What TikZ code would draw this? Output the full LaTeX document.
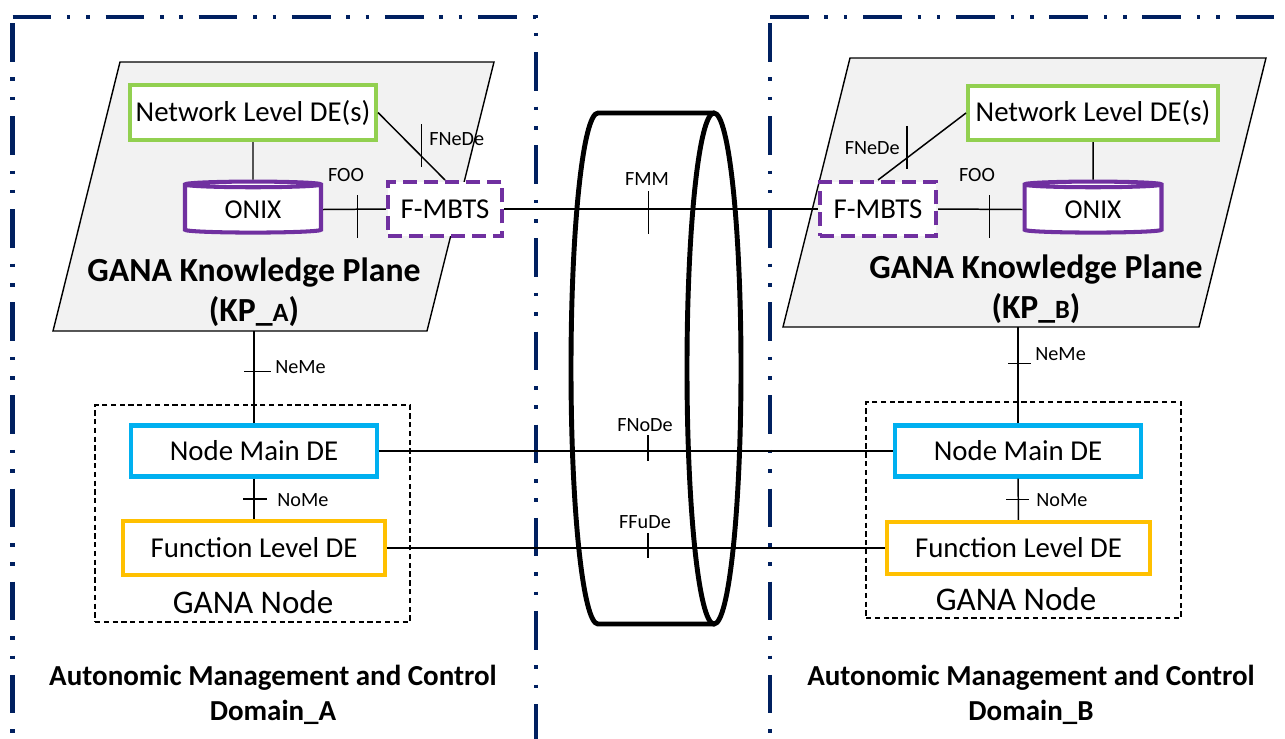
\documentclass[tikz,border=0pt]{standalone}
\usepackage{fontspec}
\setmainfont{Carlito}
\usepackage{tikz}
\usetikzlibrary{shapes.geometric}
\definecolor{azuldominio}{RGB}{0,32,96}
\definecolor{verdede}{RGB}{146,208,80}
\definecolor{moradoonix}{RGB}{112,48,160}
\definecolor{azulnodo}{RGB}{0,176,240}
\definecolor{naranjade}{RGB}{255,192,0}
\definecolor{grisplano}{RGB}{242,242,242}

\begin{document}
\begin{tikzpicture}[x=0.02cm, y=-0.02cm]
      % Definimos algunos estilos
      \tikzstyle{dominio}=[
        draw=azuldominio,
        line width=2.4pt,
        dash pattern=on 22pt off 9pt on 2pt off 9pt on 2pt off 9pt
      ]
      \tikzstyle{plano}=[draw=black, line width=0.8pt, fill=grisplano]
      % caja de un elemento de decision
      \tikzstyle{caja}=[
        rectangle,
        line width=2.3pt,
        fill=white,
        inner sep=0pt,
        font=\fontsize{16.4}{19}\selectfont
      ]
      \tikzstyle{onix}=[
        cylinder,
        shape border rotate=90,
        aspect=0.1,
        draw=moradoonix,
        line width=2.3pt,
        fill=white,
        inner sep=0pt,
        font=\fontsize{15.5}{18}\selectfont
      ]
      \tikzstyle{fmbts}=[caja, draw=moradoonix, dash pattern=on 8pt off 4pt]
      \tikzstyle{nodo_gana}=[rectangle, draw=black, line width=0.7pt, dash pattern=on 3pt off 2pt]
      \tikzstyle{anillo}=[draw=black, line width=2.8pt]
      \tikzstyle{conexion}=[draw=black, line width=0.85pt]
      \tikzstyle{etiqueta}=[inner sep=0pt, font=\fontsize{11.5}{13}\selectfont]
      \tikzstyle{titulo}=[inner sep=0pt, align=center, font=\bfseries\fontsize{19.2}{22.7}\selectfont]
      \tikzstyle{texto_nodo}=[inner sep=0pt, font=\fontsize{18.8}{21}\selectfont]
      \tikzstyle{texto_dominio}=[inner sep=0pt, align=center, font=\bfseries\fontsize{16.5}{20}\selectfont]

      \useasboundingbox (0,0) rectangle (1285,738);
      \clip (0,0) rectangle (1285,738);

      % dominios
      \draw[dominio] (12.5,17) -- (536,17) -- (536,760);
      \draw[dominio] (12.5,23) -- (12.5,760);
      \draw[dominio] (770,17) -- (1300,17);
      \draw[dominio] (770,23) -- (770,760);

      % planos de conocimiento
      \draw[plano] (120,62) -- (494,62) -- (427,331) -- (53,331) -- cycle;
      \coordinate (kpA) at (254,331);
      \draw[plano] (850,58) -- (1266,58) -- (1199,327) -- (783,327) -- cycle;
      \coordinate (kpB) at (1018,327);
      \node[titulo] (tituloA) at (254,292) {GANA Knowledge Plane\\(KP\_{\fontsize{15}{15}\selectfont A})};
      \node[titulo] (tituloB) at (1036,289) {GANA Knowledge Plane\\(KP\_{\fontsize{15}{15}\selectfont B})};

      % anillo central
      \draw[anillo] (714,113) -- (598,113) arc[start angle=270, end angle=90, x radius=27, y radius=255.5] -- (714,624);
      \draw[anillo] (714,368.5) ellipse [x radius=27, y radius=255.5];

      % KP_A
      \node[caja, draw=verdede, minimum width=4.92cm, minimum height=1.10cm] (redA) at (253,112.5) {Network Level DE(s)};
      \node[onix, minimum width=2.72cm, minimum height=1.02cm] (onixA) at (253,209.5) {ONIX};
      \node[fmbts, minimum width=2.28cm, minimum height=1.08cm] (fmbtsA) at (445,209) {F-MBTS};

      % KP_B
      \node[caja, draw=verdede, minimum width=5.0cm, minimum height=1.08cm] (redB) at (1093,113) {Network Level DE(s)};
      \node[onix, minimum width=2.74cm, minimum height=1.02cm] (onixB) at (1093,209.5) {ONIX};
      \node[fmbts, minimum width=2.32cm, minimum height=1.08cm] (fmbtsB) at (878,209) {F-MBTS};

      % nodos GANA
      \node[nodo_gana, minimum width=6.3cm, minimum height=4.34cm] (ganaA) at (252.5,513.5) {};
      \node[texto_nodo] (txtGanaA) at (253,602) {GANA Node};
      \node[caja, draw=azulnodo, minimum width=4.92cm, minimum height=1.02cm] (principalA) at (254,451) {Node Main DE};
      \node[caja, draw=naranjade, minimum width=5.24cm, minimum height=1.08cm] (funcionA) at (254,548) {Function Level DE};

      \node[nodo_gana, minimum width=6.3cm, minimum height=4.32cm] (ganaB) at (1023.5,510) {};
      \node[texto_nodo] (txtGanaB) at (1016,599) {GANA Node};
      \node[caja, draw=azulnodo, minimum width=4.92cm, minimum height=1.02cm] (principalB) at (1018,451) {Node Main DE};
      \node[caja, draw=naranjade, minimum width=5.26cm, minimum height=1.04cm] (funcionB) at (1018.5,548) {Function Level DE};

      % conexiones dentro de KP_A
      \draw[conexion] (redA) -- (onixA);
      \draw[conexion] (redA.east) -- coordinate[pos=0.65] (fnedeA) (fmbtsA.north);
      \draw[conexion] (fnedeA) ++(0,-32) -- ++(0,43);
      \node[etiqueta, anchor=west] (lblFnedeA) at (429,139) {FNeDe};
      \draw[conexion] (onixA.east) -- coordinate[pos=0.55] (fooA) (fmbtsA.west);
      \draw[conexion] (fooA) ++(0,-14) -- ++(0,43);
      \node[etiqueta] (lblFooA) at (346,175) {FOO};

      % conexiones dentro de KP_B
      \draw[conexion] (redB) -- (onixB);
      \draw[conexion] (fmbtsB.north) -- coordinate[pos=0.33] (fnedeB) (redB.west);
      \draw[conexion] (fnedeB) ++(0,-32) -- ++(0,43);
      \node[etiqueta, anchor=east] (lblFnedeB) at (900,148) {FNeDe};
      \draw[conexion] (fmbtsB.east) -- coordinate[pos=0.61] (fooB) (onixB.west);
      \draw[conexion] (fooB) ++(0,-14) -- ++(0,43);
      \node[etiqueta] (lblFooB) at (977,175) {FOO};

      % FMM
      \draw[conexion] (fmbtsA.east) -- coordinate[pos=0.46] (fmm) (fmbtsB.west);
      \draw[conexion] (fmm) ++(0,-18) -- ++(0,43);
      \node[etiqueta] (lblFmm) at (647,179) {FMM};

      % NeMe
      \draw[conexion] (kpA) -- coordinate[pos=0.44] (nemeA) (principalA.north);
      \draw[conexion] (nemeA) ++(-10,0) -- ++(27,0);
      \node[etiqueta, anchor=west] (lblNemeA) at (275,367) {NeMe};
      \draw[conexion] (kpB) -- coordinate[pos=0.376] (nemeB) (principalB.north);
      \draw[conexion] (nemeB) ++(-10,0) -- ++(23,0);
      \node[etiqueta, anchor=west] (lblNemeB) at (1035,354) {NeMe};

      % NoMe
      \draw[conexion] (principalA) -- coordinate[pos=0.5] (nomeA) (funcionA);
      \draw[conexion] (nomeA) ++(-11,0) -- ++(24,0);
      \node[etiqueta, anchor=west] (lblNomeA) at (277,500) {NoMe};
      \draw[conexion] (principalB) -- coordinate[pos=0.5] (nomeB) (funcionB);
      \draw[conexion] (nomeB) ++(-12,0) -- ++(23,0);
      \node[etiqueta, anchor=west] (lblNomeB) at (1036,500) {NoMe};

      % FNoDe y FFuDe
      \draw[conexion] (principalA) -- coordinate[pos=0.523] (fnode) (principalB);
      \draw[conexion] (fnode) ++(0,-16) -- ++(0,26);
      \node[etiqueta] (lblFnode) at (645,425) {FNoDe};
      \draw[conexion] (funcionA) -- coordinate[pos=0.524] (ffude) (funcionB);
      \draw[conexion] (ffude) ++(0,-15) -- ++(0,25);
      \node[etiqueta] (lblFfude) at (645,522) {FFuDe};

      % dominios (textos)
      \node[texto_dominio] (domA) at (273,695) {Autonomic Management and Control\\Domain\_A};
      \node[texto_dominio] (domB) at (1031,695) {Autonomic Management and Control\\Domain\_B};
\end{tikzpicture}
\end{document}
